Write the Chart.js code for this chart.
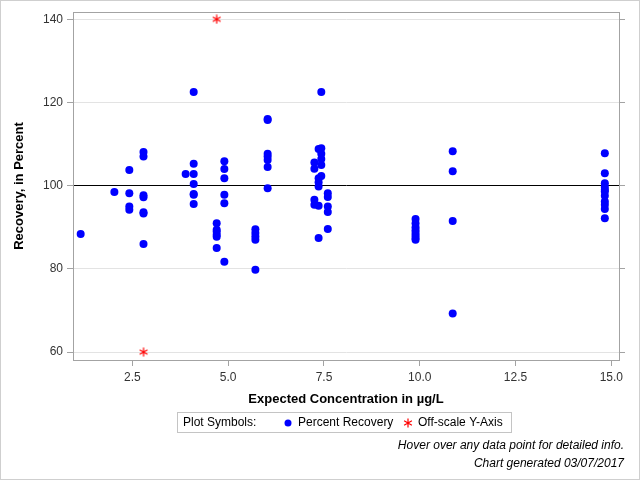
<!DOCTYPE html>
<html>
<head>
<meta charset="utf-8">
<title>Percent Recovery</title>
<script src="https://cdn.jsdelivr.net/npm/chart.js@4.4.1/dist/chart.umd.min.js"></script>
<style>
    body { margin: 0; background: #fff; }
    canvas { display: block; }
</style>
</head>
<body>
<canvas id="chartCanvas" width="640" height="480"></canvas>
<script>
// expected concentration (ug/L) for each group of samples
var concentrations = [1.15, 2.03, 2.42, 2.79, 3.89, 4.1, 4.7, 4.9, 5.71, 6.03, 7.25, 7.36, 7.43, 7.6, 9.89, 10.86, 14.83];

// percent recovery measured at each concentration
var recoveries = [
    [88.4],
    [98.5],
    [103.8, 98.2, 95.0, 94.2],
    [108.1, 107.0, 97.7, 97.2, 93.6, 93.3, 86.0],
    [102.8],
    [122.5, 105.3, 102.8, 100.4, 98.0, 97.8, 95.6],
    [91.0, 89.4, 88.9, 88.2, 87.7, 85.0],
    [105.9, 104.0, 101.8, 97.8, 95.8, 81.7],
    [89.5, 88.6, 87.8, 87.0, 79.8],
    [116.0, 115.8, 107.7, 107.0, 106.2, 104.5, 99.4],
    [105.6, 104.1, 96.6, 95.4],
    [108.8, 101.8, 100.8, 99.8, 95.2, 87.4],
    [122.5, 109.0, 107.7, 106.4, 105.0, 102.3],
    [98.2, 97.3, 95.0, 93.7, 89.6],
    [92.0, 91.0, 90.0, 89.3, 88.6, 88.0, 87.4, 87.0],
    [108.3, 103.5, 91.5, 69.3],
    [107.8, 103.0, 100.6, 99.7, 99.0, 98.6, 97.6, 96.2, 95.4, 94.4, 92.2]
];

// values off the y-axis, pinned to the axis limit
var offScaleX = [2.79, 4.7];
var offScaleY = [60, 140];

var xTicks = [2.5, 5.0, 7.5, 10.0, 12.5, 15.0];
var yTicks = [60, 80, 100, 120, 140];

var recoveryPoints = [];
concentrations.forEach(function (c, i) {
    recoveries[i].forEach(function (r) {
        recoveryPoints.push({ x: c, y: r });
    });
});
var offScalePoints = offScaleX.map(function (x, i) {
    return { x: x, y: offScaleY[i] };
});

var axisGray = '#a3a3a3';
var font = "'Liberation Sans', Arial, sans-serif";

// six-armed asterisk like the SAS "star" symbol
function makeAsterisk(size, color) {
    var c = document.createElement('canvas');
    c.width = size;
    c.height = size;
    var g = c.getContext('2d');
    var r = size / 2 - 0.5;
    g.strokeStyle = color;
    g.lineWidth = 1.2;
    g.beginPath();
    for (var k = 0; k < 3; k++) {
        var a = Math.PI / 2 + k * Math.PI / 3;
        g.moveTo(size / 2 + r * Math.cos(a), size / 2 + r * Math.sin(a));
        g.lineTo(size / 2 - r * Math.cos(a), size / 2 - r * Math.sin(a));
    }
    g.stroke();
    return c;
}
var asterisk = makeAsterisk(10, '#ff0000');

var extras = {
    id: 'extras',
    afterDraw: function (chart) {
        var ctx = chart.ctx;
        var area = chart.chartArea;
        ctx.save();
        // outer border
        ctx.strokeStyle = '#cfcfcf';
        ctx.lineWidth = 1;
        ctx.strokeRect(0.5, 0.5, 639, 479);
        // plot frame
        ctx.strokeStyle = axisGray;
        ctx.strokeRect(Math.round(area.left) + 0.5, Math.round(area.top) + 0.5,
            Math.round(area.right - area.left), Math.round(area.bottom - area.top));

        // legend box
        ctx.strokeStyle = '#c4c4c4';
        ctx.strokeRect(177.5, 412.5, 334, 20);
        ctx.fillStyle = '#000';
        ctx.font = '12px ' + font;
        ctx.textBaseline = 'middle';
        ctx.textAlign = 'left';
        ctx.fillText('Plot Symbols:', 183, 423);
        ctx.fillText('Percent Recovery', 298, 423);
        ctx.fillText('Off-scale Y-Axis', 418, 423);
        ctx.fillStyle = '#0000ff';
        ctx.beginPath();
        ctx.arc(288, 423, 3.5, 0, Math.PI * 2);
        ctx.fill();
        ctx.drawImage(asterisk, 403, 418, 10, 10);

        // footnotes
        ctx.fillStyle = '#000';
        ctx.font = 'italic 12px ' + font;
        ctx.textAlign = 'right';
        ctx.fillText('Hover over any data point for detailed info.', 624, 446);
        ctx.fillText('Chart generated 03/07/2017', 624, 464);
        ctx.restore();
    }
};

var ctx = document.getElementById('chartCanvas').getContext('2d');
var myChart = new Chart(ctx, {
    type: 'scatter',
    data: {
        datasets: [{
            label: 'Percent Recovery',
            data: recoveryPoints,
            pointStyle: 'circle',
            pointRadius: 4,
            pointHoverRadius: 5,
            backgroundColor: '#0000ff',
            borderColor: '#0000ff',
            borderWidth: 0
        }, {
            label: 'Off-scale Y-Axis',
            data: offScalePoints,
            pointStyle: asterisk,
            pointRadius: 5,
            pointHoverRadius: 5,
            backgroundColor: '#ff0000',
            borderColor: '#ff0000',
            borderWidth: 1
        }]
    },
    options: {
        responsive: false,
        animation: false,
        devicePixelRatio: 1,
        layout: {
            padding: { top: 12, left: 0, right: 0, bottom: 0 }
        },
        plugins: {
            legend: { display: false },
            tooltip: {
                callbacks: {
                    label: function (item) {
                        return 'Expected: ' + item.raw.x + ' µg/L, Recovery: ' + item.raw.y + '%';
                    }
                }
            }
        },
        scales: {
            x: {
                type: 'linear',
                position: 'bottom',
                min: 0.95,
                max: 15.2,
                afterBuildTicks: function (axis) {
                    axis.ticks = xTicks.map(function (v) { return { value: v }; });
                },
                afterFit: function (axis) {
                    axis.height = 120;
                },
                grid: {
                    drawOnChartArea: false,
                    drawTicks: true,
                    tickLength: 6,
                    tickColor: axisGray
                },
                border: { display: true, color: axisGray },
                ticks: {
                    color: '#333',
                    font: { family: font, size: 12 },
                    padding: 4,
                    maxRotation: 0,
                    callback: function (v) { return Number(v).toFixed(1); }
                },
                title: {
                    display: true,
                    text: 'Expected Concentration in µg/L',
                    color: '#000',
                    font: { family: font, size: 13, weight: 'bold' },
                    padding: { top: 0, bottom: 73 }
                }
            },
            y: {
                type: 'linear',
                position: 'left',
                min: 58.1,
                max: 141.75,
                afterBuildTicks: function (axis) {
                    axis.ticks = yTicks.map(function (v) { return { value: v }; });
                },
                afterFit: function (axis) {
                    axis.width = 73;
                },
                grid: {
                    color: function (c) {
                        return c.tick && c.tick.value === 100 ? '#000000' : '#e3e3e3';
                    },
                    tickColor: axisGray,
                    tickLength: 6
                },
                border: { display: true, color: axisGray },
                ticks: {
                    color: '#333',
                    font: { family: font, size: 12 },
                    padding: 4
                },
                title: {
                    display: true,
                    text: 'Recovery, in Percent',
                    color: '#000',
                    font: { family: font, size: 13, weight: 'bold' },
                    padding: { top: 12, bottom: 0 }
                }
            },
            y2: {
                type: 'linear',
                position: 'right',
                min: 58.1,
                max: 141.75,
                afterBuildTicks: function (axis) {
                    axis.ticks = yTicks.map(function (v) { return { value: v }; });
                },
                afterFit: function (axis) {
                    axis.width = 21;
                },
                grid: {
                    drawOnChartArea: false,
                    tickColor: axisGray,
                    tickLength: 6
                },
                border: { display: true, color: axisGray },
                ticks: { display: false }
            }
        }
    },
    plugins: [extras]
});
</script>
</body>
</html>
